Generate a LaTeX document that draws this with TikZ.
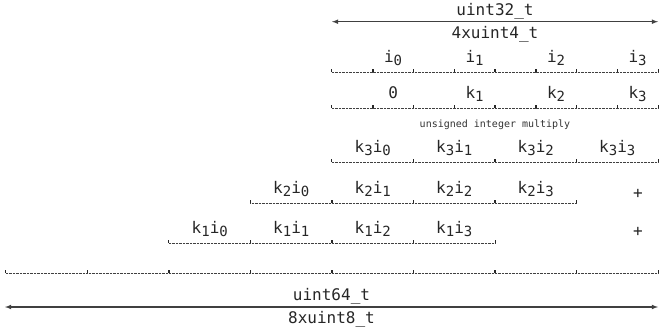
\documentclass[tikz,border=0pt]{standalone}
\usepackage{fontspec}
\setmonofont{DejaVu Sans Mono}
\newcommand\sbs[1]{\raisebox{-3.5pt}{\fontsize{14pt}{15pt}\selectfont #1}}
\tikzset{>=latex,
         cell/.style={minimum width=81.5pt, inner xsep=0pt, inner ysep=0pt,
                      text height=12pt, text depth=10pt, anchor=base, text=black!85,
                      font={\ttfamily\fontsize{16pt}{18pt}\selectfont},
                      append after command={(\tikzlastnode.south west) edge[tick] ++(0,3pt)
                                            (\tikzlastnode.south east) edge[tick] ++(0,3pt)
                                            (\tikzlastnode.south west) edge[rule] (\tikzlastnode.south east)}},
          nib/.style={cell, minimum width=40.75pt},
         rule/.style={draw, solid, line width=0.5pt, dash pattern=on 0.7pt off 0.7pt, black!75},
         tick/.style={draw, solid, line width=0.7pt, black!85},
         word/.style={anchor=base, inner sep=0pt, text=black!85, font={\ttfamily\fontsize{16pt}{18pt}\selectfont}},
         note/.style={anchor=base, inner sep=0pt, text=black!80, font={\ttfamily\fontsize{10pt}{11pt}\selectfont}},
         span/.style={<->, line width=1.1pt, black!75}}
\begin{document}
\begin{tikzpicture}[x=1pt, y=-1pt]
        \useasboundingbox (0,0) rectangle (659,335);

        % 32 bit word on top
        \node[word] at (495, 15.5) (u32)  {uint32\_t};
        \node[word] at (495, 38) (u4)   {4xuint4\_t};
        \coordinate (w32l) at (332, 21.7);
        \coordinate (w32r) at (658, 21.7);
        \draw[span] (w32l) -- (w32r);

        % nibbles i
        \node[nib] at (352.375, 62) (i0l) {};
        \node[nib] at (393.125, 62) (i0h) {i\sbs{0}};
        \node[nib] at (433.875, 62) (i1l) {};
        \node[nib] at (474.625, 62) (i1h) {i\sbs{1}};
        \node[nib] at (515.375, 62) (i2l) {};
        \node[nib] at (556.125, 62) (i2h) {i\sbs{2}};
        \node[nib] at (596.875, 62) (i3l) {};
        \node[nib] at (637.625, 62) (i3h) {i\sbs{3}};

        % nibbles k
        \node[nib] at (352.375, 98) (k0l) {};
        \node[nib] at (393.125, 98) (k0h) {0};
        \node[nib] at (433.875, 98) (k1l) {};
        \node[nib] at (474.625, 98) (k1h) {k\sbs{1}};
        \node[nib] at (515.375, 98) (k2l) {};
        \node[nib] at (556.125, 98) (k2h) {k\sbs{2}};
        \node[nib] at (596.875, 98) (k3l) {};
        \node[nib] at (637.625, 98) (k3h) {k\sbs{3}};

        \node[note] at (495, 127) (mul) {unsigned integer multiply};

        % partial products
        \node[cell] at (372.75, 152) (k3i0) {k\sbs{3}i\sbs{0}};
        \node[cell] at (454.25, 152) (k3i1) {k\sbs{3}i\sbs{1}};
        \node[cell] at (535.75, 152) (k3i2) {k\sbs{3}i\sbs{2}};
        \node[cell] at (617.25, 152) (k3i3) {k\sbs{3}i\sbs{3}};

        \node[cell] at (291.25, 193) (k2i0) {k\sbs{2}i\sbs{0}};
        \node[cell] at (372.75, 193) (k2i1) {k\sbs{2}i\sbs{1}};
        \node[cell] at (454.25, 193) (k2i2) {k\sbs{2}i\sbs{2}};
        \node[cell] at (535.75, 193) (k2i3) {k\sbs{2}i\sbs{3}};
        \node[word] at (638, 198) (plusa) {+};

        \node[cell] at (209.75, 233) (k1i0) {k\sbs{1}i\sbs{0}};
        \node[cell] at (291.25, 233) (k1i1) {k\sbs{1}i\sbs{1}};
        \node[cell] at (372.75, 233) (k1i2) {k\sbs{1}i\sbs{2}};
        \node[cell] at (454.25, 233) (k1i3) {k\sbs{1}i\sbs{3}};
        \node[word] at (638, 236) (plusb) {+};

        % 64 bit result
        \node[cell] at ( 46.75, 263) (w0) {};
        \node[cell] at (128.25, 263) (w1) {};
        \node[cell] at (209.75, 263) (w2) {};
        \node[cell] at (291.25, 263) (w3) {};
        \node[cell] at (372.75, 263) (w4) {};
        \node[cell] at (454.25, 263) (w5) {};
        \node[cell] at (535.75, 263) (w6) {};
        \node[cell] at (617.25, 263) (w7) {};

        \node[word] at (331.5, 300.5) (u64) {uint64\_t};
        \node[word] at (331.5, 323) (u8)  {8xuint8\_t};
        \coordinate (w64l) at (  5, 307);
        \coordinate (w64r) at (658, 307);
        \draw[span] (w64l) -- (w64r);
    \end{tikzpicture}
\end{document}
